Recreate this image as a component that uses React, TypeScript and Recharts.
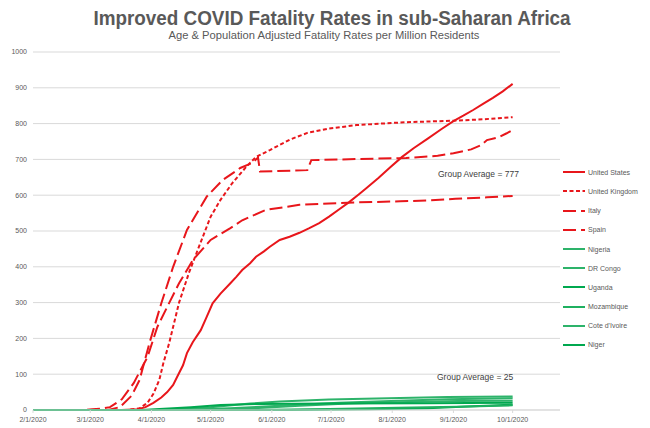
import React from 'react';
import { LineChart, Line, XAxis, YAxis, CartesianGrid } from 'recharts';

// x values are days since 2/1/2020
const tickDays = [0, 29, 60, 90, 121, 151, 182, 213, 243];
const tickLabels = ['2/1/2020', '3/1/2020', '4/1/2020', '5/1/2020', '6/1/2020', '7/1/2020', '8/1/2020', '9/1/2020', '10/1/2020'];
const yTicks = [0, 100, 200, 300, 400, 500, 600, 700, 800, 900, 1000];

const unitedStates: [number, number][] = [
  [0, 0], [45, 0], [53, 2], [57, 8], [61, 20], [65, 35], [68, 50], [71, 70], [73, 92], [76, 125], [78, 159],
  [81, 190], [85, 223], [88, 260], [91, 298], [95, 325], [100, 354], [103, 372], [106, 391], [110, 410],
  [113, 428], [117, 443], [120, 456], [125, 475], [130, 484], [135, 495], [140, 508], [145, 522], [150, 540],
  [155, 560], [160, 580], [165, 602], [169, 620], [175, 648], [181, 678], [187, 707], [193, 732], [200, 758],
  [207, 785], [213, 807], [218, 822], [223, 838], [228, 855], [233, 872], [238, 890], [243, 911],
];
const unitedKingdom: [number, number][] = [
  [0, 0], [48, 0], [54, 5], [58, 20], [61, 45], [64, 84], [66, 130], [69, 187], [74, 300], [79, 383], [84, 455],
  [90, 540], [95, 587], [101, 634], [108, 679], [113, 707], [120, 726], [130, 755], [139, 774], [150, 786],
  [164, 796], [189, 804], [213, 808], [228, 812], [243, 818],
];
const italy: [number, number][] = [
  [0, 0], [25, 0], [30, 2], [35, 4], [39, 8], [45, 30], [51, 75], [58, 148], [63, 232], [68, 288], [74, 354],
  [81, 419], [90, 475], [100, 508], [106, 530], [118, 559], [135, 573], [150, 577], [165, 580], [186, 583],
  [200, 585], [214, 590], [230, 594], [243, 598],
];
const spain: [number, number][] = [
  [0, 0], [38, 0], [44, 8], [50, 40], [54, 84], [59, 187], [65, 298], [71, 400], [78, 503], [88, 596], [96, 642],
  [105, 676], [111, 690], [114, 705], [115, 666], [139, 670], [141, 698], [164, 701], [189, 704], [205, 710],
  [213, 717], [222, 728], [227, 740], [230, 754], [236, 762], [240, 773], [242, 779],
];
const nigeria: [number, number][] = [
  [0, 0], [62, 0], [90, 8], [110, 18], [125, 24], [150, 29], [180, 33], [210, 36], [243, 38],
];
const drCongo: [number, number][] = [
  [0, 0], [70, 0], [100, 5], [125, 12], [155, 20], [185, 26], [210, 30], [243, 33],
];
const uganda: [number, number][] = [
  [0, 0], [130, 0], [170, 2], [200, 5], [220, 10], [243, 15],
];
const mozambique: [number, number][] = [
  [0, 0], [110, 0], [150, 3], [185, 6], [215, 9], [243, 13],
];
const coteDIvoire: [number, number][] = [
  [0, 0], [75, 0], [110, 4], [135, 12], [160, 18], [190, 22], [215, 25], [243, 26],
];
const niger: [number, number][] = [
  [0, 0], [55, 0], [80, 8], [95, 14], [115, 17], [150, 18], [200, 19], [243, 20],
];

const seriesNames = ['United States', 'United Kingdom', 'Italy', 'Spain', 'Nigeria', 'DR Congo', 'Uganda', 'Mozambique', "Cote d'Ivoire", 'Niger'];
const seriesData = [unitedStates, unitedKingdom, italy, spain, nigeria, drCongo, uganda, mozambique, coteDIvoire, niger];

const RED = '#E8161B';
const seriesColors = [RED, RED, RED, RED, '#2DB36A', '#2DB36A', '#00A84F', '#1FB060', '#2DB36A', '#00A84F'];
const seriesDash = [undefined, '4 2.5', '13 5', '13 5', undefined, undefined, undefined, undefined, undefined, undefined];

const SANS = '"Liberation Sans", Arial, sans-serif';
const GRAY = '#595959';

const fmtX = (v: number) => {
  const i = tickDays.indexOf(v);
  return i >= 0 ? tickLabels[i] : '';
};

export default function App() {
  return (
    <div style={{ position: 'absolute', left: 0, top: 0, width: 650, height: 428, background: '#fff', overflow: 'hidden' }}>
      <div style={{ position: 'absolute', left: 7, top: 7.5, width: 650, textAlign: 'center', fontFamily: SANS, fontWeight: 700, fontSize: 20, lineHeight: '20px', color: GRAY, whiteSpace: 'nowrap', transform: 'scaleX(0.943)', transformOrigin: '325px 0' }}>
        Improved COVID Fatality Rates in sub-Saharan Africa
      </div>
      <div style={{ position: 'absolute', left: -1, top: 30, width: 650, textAlign: 'center', fontFamily: SANS, fontSize: 11.2, lineHeight: '11px', color: GRAY, whiteSpace: 'nowrap' }}>
        Age &amp; Population Adjusted Fatality Rates per Million Residents
      </div>
      <LineChart width={650} height={428} margin={{ top: 52, right: 90, bottom: 0, left: 0 }}>
        <CartesianGrid horizontal vertical={false} stroke="#D9D9D9" />
        <XAxis
          type="number"
          dataKey="day"
          domain={[0, 267]}
          ticks={tickDays}
          tickFormatter={fmtX}
          interval={0}
          height={18}
          allowDuplicatedCategory={false}
          axisLine={{ stroke: '#D9D9D9' }}
          tickLine={{ stroke: '#D9D9D9' }}
          tickSize={3}
          tickMargin={4}
          tick={{ fontSize: 7, fill: GRAY, fontFamily: SANS }}
        />
        <YAxis
          type="number"
          domain={[0, 1000]}
          ticks={yTicks}
          interval={0}
          width={33}
          axisLine={false}
          tickLine={false}
          tickSize={4}
          tickMargin={2}
          tick={{ fontSize: 7, fill: GRAY, fontFamily: SANS }}
        />
        {seriesData.map((pts, i) => (
          <Line
            key={seriesNames[i]}
            name={seriesNames[i]}
            data={pts.map(([day, v]) => ({ day, v }))}
            dataKey="v"
            type="linear"
            stroke={seriesColors[i]}
            strokeWidth={2}
            strokeDasharray={seriesDash[i]}
            dot={false}
            activeDot={false}
            isAnimationActive={false}
          />
        ))}
      </LineChart>
      <div style={{ position: 'absolute', left: 438, top: 170.3, fontFamily: SANS, fontSize: 8.5, lineHeight: '8.5px', color: '#404040', whiteSpace: 'nowrap' }}>
        Group Average = 777
      </div>
      <div style={{ position: 'absolute', left: 437, top: 372.8, fontFamily: SANS, fontSize: 8.5, lineHeight: '8.5px', color: '#404040', whiteSpace: 'nowrap' }}>
        Group Average = 25
      </div>
      <div style={{ position: 'absolute', left: 560, top: 162.7 }}>
        {seriesNames.map((n, i) => (
          <div key={n} style={{ height: 19.2, display: 'flex', alignItems: 'center' }}>
            <svg width={28} height={6} style={{ display: 'block' }}>
              <line x1={3} y1={3} x2={25} y2={3} stroke={seriesColors[i]} strokeWidth={2} strokeDasharray={seriesDash[i]} />
            </svg>
            <span style={{ fontFamily: SANS, fontSize: 7, color: GRAY, whiteSpace: 'nowrap', lineHeight: '7px' }}>{n}</span>
          </div>
        ))}
      </div>
    </div>
  );
}
